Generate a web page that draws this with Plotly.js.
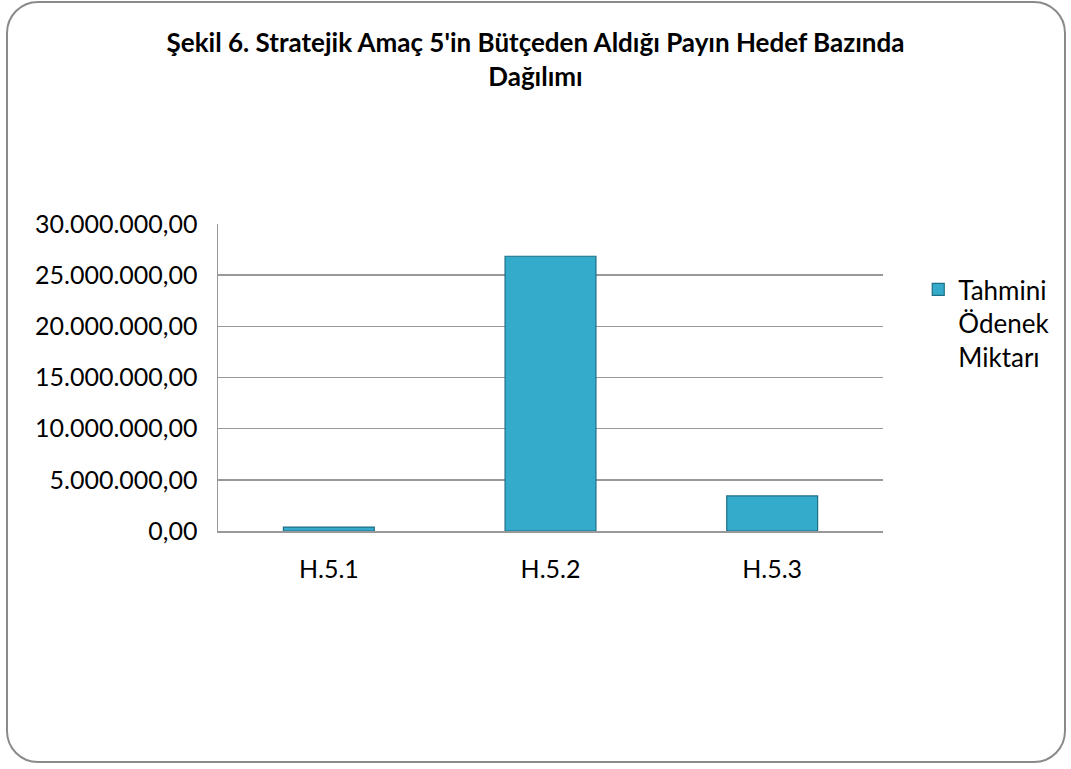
<!DOCTYPE html>
<html>
<head>
<meta charset="utf-8">
<script src="https://cdn.plot.ly/plotly-3.0.1.min.js"></script>
<style>
  html, body { margin: 0; padding: 0; background: #fff; }
  #wrap { position: relative; width: 1071px; height: 769px; }
  #chart { position: absolute; left: 0; top: 0; width: 1071px; height: 769px; }
  #frame { position: absolute; left: 6px; top: 1px; width: 1060px; height: 762px;
           border: 2px solid #8a8a8a; border-radius: 32px; pointer-events: none; box-sizing: border-box; }
</style>
</head>
<body>
<div id="wrap">
  <div id="chart"></div>
  <div id="frame"></div>
</div>
<script>
const categories = ["H.5.1", "H.5.2", "H.5.3"];
const seriesName = "Tahmini<br>Ödenek<br>Miktarı";
const values = [380000, 26850000, 3430000];
const titleText = "Şekil 6. Stratejik Amaç 5'in Bütçeden Aldığı Payın Hedef Bazında<br>Dağılımı";

const fontFam = "Lato, 'Open Sans', 'Liberation Sans', sans-serif";

const trace = {
  type: "bar",
  x: categories,
  y: values,
  name: seriesName,
  width: 0.41,
  marker: {
    color: "#35abcc",
    line: { color: "#1e6f87", width: 1.2 }
  },
  showlegend: true,
  hoverinfo: "x+y"
};

const layout = {
  width: 1071,
  height: 769,
  paper_bgcolor: "rgba(0,0,0,0)",
  plot_bgcolor: "#ffffff",
  separators: ",.",
  margin: { l: 218, r: 188, t: 224, b: 238, pad: 0 },
  font: { family: fontFam, color: "#000000", size: 25 },
  title: {
    text: titleText,
    xref: "container", x: 0.5, xanchor: "center",
    yref: "container", y: 0.932, yanchor: "top",
    font: { family: fontFam, size: 26, color: "#000000", weight: "bold" }
  },
  xaxis: {
    type: "category",
    showgrid: false,
    showline: true,
    linecolor: "#999999",
    linewidth: 1.5,
    ticks: "",
    tickfont: { size: 25, family: fontFam },
    ticklabelstandoff: 15,
    zeroline: false
  },
  yaxis: {
    range: [0, 30000000],
    dtick: 5000000,
    tickformat: ",.2f",
    showgrid: true,
    gridcolor: "#999999",
    gridwidth: 1.5,
    showline: true,
    linecolor: "#999999",
    linewidth: 1.5,
    ticks: "",
    tickfont: { size: 25, family: fontFam },
    ticklabelstandoff: 14,
    zeroline: false
  },
  legend: {
    x: 1.053, xanchor: "left",
    y: 0.863, yanchor: "top",
    valign: "top",
    font: { size: 26, family: fontFam },
    bgcolor: "rgba(0,0,0,0)",
    itemwidth: 30,
    traceorder: "normal"
  },
  showlegend: true
};

Plotly.newPlot("chart", [trace], layout, { displayModeBar: false, staticPlot: true });
</script>
</body>
</html>
